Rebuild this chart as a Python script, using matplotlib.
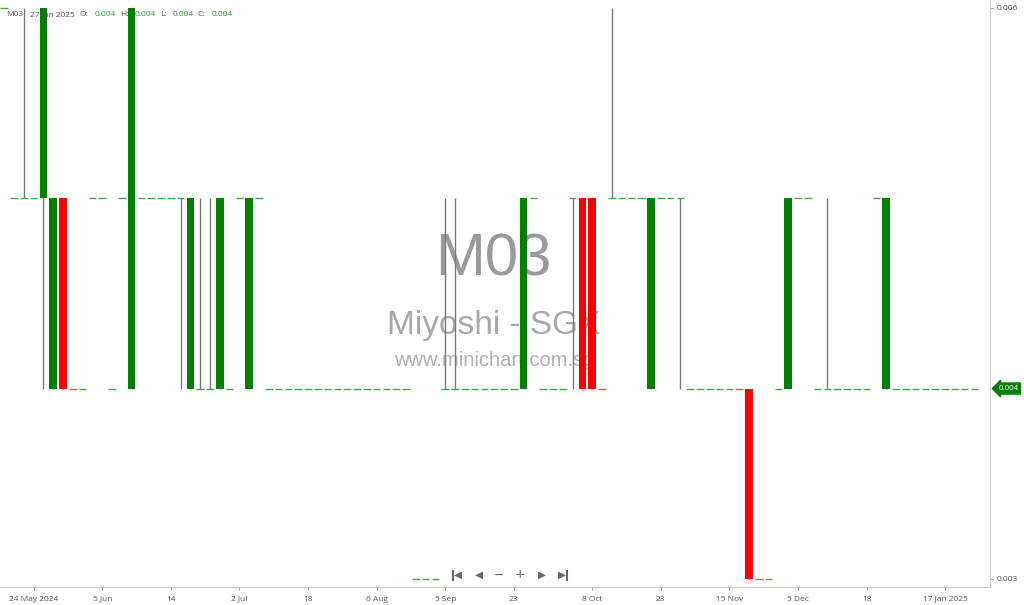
import matplotlib
matplotlib.use("Agg")
import matplotlib.pyplot as plt
from matplotlib.lines import Line2D
import numpy as np

# ---------------- data ----------------
opens = [0.006,
         0.005, 0.005, 0.005, 0.005, 0.004, 0.005, 0.004, 0.004, 0.005, 0.005,
         0.004, 0.005, 0.004, 0.005, 0.005, 0.005, 0.005, 0.005, 0.004, 0.004,
         0.004, 0.004, 0.004, 0.005, 0.004, 0.005] + [0.004] * 15 + [0.003] * 3 + \
        [0.004, 0.004] + [0.004] * 6 + [0.004, 0.005, 0.004, 0.004, 0.004, 0.005,
         0.005, 0.005, 0.004, 0.005, 0.005, 0.005, 0.005, 0.004, 0.005, 0.005, 0.005] + \
        [0.004] * 6 + [0.004, 0.003, 0.003, 0.004, 0.004, 0.005, 0.005, 0.004, 0.004] + \
        [0.004] * 4 + [0.005, 0.004] + [0.004] * 9
closes = [0.006,
          0.005, 0.005, 0.005, 0.006, 0.005, 0.004, 0.004, 0.004, 0.005, 0.005,
          0.004, 0.005, 0.006, 0.005, 0.005, 0.005, 0.005, 0.005, 0.005, 0.004,
          0.004, 0.005, 0.004, 0.005, 0.005, 0.005] + [0.004] * 15 + [0.003] * 3 + \
         [0.004, 0.004] + [0.004] * 6 + [0.005, 0.005, 0.004, 0.004, 0.004, 0.005,
          0.004, 0.004, 0.004, 0.005, 0.005, 0.005, 0.005, 0.005, 0.005, 0.005, 0.005] + \
         [0.004] * 6 + [0.003, 0.003, 0.003, 0.004, 0.005, 0.005, 0.005, 0.004, 0.004] + \
         [0.004] * 4 + [0.005, 0.005] + [0.004] * 9
highs = [0.006,
         0.005, 0.006, 0.005, 0.006, 0.005, 0.005, 0.004, 0.004, 0.005, 0.005,
         0.004, 0.005, 0.006, 0.005, 0.005, 0.005, 0.005, 0.005, 0.005, 0.005,
         0.005, 0.005, 0.004, 0.005, 0.005, 0.005] + [0.004] * 15 + [0.003] * 3 + \
        [0.005, 0.005] + [0.004] * 6 + [0.005, 0.005, 0.004, 0.004, 0.004, 0.005,
         0.005, 0.005, 0.004, 0.006, 0.005, 0.005, 0.005, 0.005, 0.005, 0.005, 0.005] + \
        [0.004] * 6 + [0.004, 0.003, 0.003, 0.004, 0.005, 0.005, 0.005, 0.004, 0.005] + \
        [0.004] * 4 + [0.005, 0.005] + [0.004] * 9
lows = [0.006,
        0.005, 0.005, 0.005, 0.004, 0.004, 0.004, 0.004, 0.004, 0.005, 0.005,
        0.004, 0.005, 0.004, 0.005, 0.005, 0.005, 0.005, 0.004, 0.004, 0.004,
        0.004, 0.004, 0.004, 0.005, 0.004, 0.005] + [0.004] * 15 + [0.003] * 3 + \
       [0.004, 0.004] + [0.004] * 6 + [0.004, 0.005, 0.004, 0.004, 0.004, 0.004,
        0.004, 0.004, 0.004, 0.005, 0.005, 0.005, 0.005, 0.004, 0.005, 0.005, 0.004] + \
       [0.004] * 6 + [0.003, 0.003, 0.003, 0.004, 0.004, 0.005, 0.005, 0.004, 0.004] + \
       [0.004] * 4 + [0.005, 0.004] + [0.004] * 9

tick_pos = [3, 10, 17, 24, 31, 38, 45, 52, 60, 67, 74, 81, 88, 96]
tick_labels = ["24 May 2024", "5 Jun", "14", "2 Jul", "18", "6 Aug", "5 Sep",
               "23", "8 Oct", "23", "15 Nov", "5 Dec", "18", "17 Jan 2025"]
y_ticks = [0.003, 0.006]
y_tick_labels = ["0.003", "0.006"]

symbol = "M03"
company = "Miyoshi - SGX"
site = "www.minichart.com.sg"
last_date = "27 Jan 2025"

# ---------------- figure ----------------
W, H = 1024, 605
fig = plt.figure(figsize=(W / 100, H / 100), dpi=100)
fig.patch.set_facecolor("white")
ax = fig.add_axes([0, 18 / H, 990 / W, 587 / H])
ax.set_facecolor("white")

o = np.array(opens); c = np.array(closes); h = np.array(highs); l = np.array(lows)
x = np.arange(len(o))

GREEN = "#008000"
RED = "#ff0000"
FLAT = "#4aa84a"
WICK = "#7a7a7a"
bw = 0.78

# wicks
wm = h > l
ax.vlines(x[wm], l[wm], h[wm], color=WICK, lw=1.0, zorder=2)
# bodies
up = c > o
dn = c < o
ax.bar(x[up], (c - o)[up], bottom=o[up], width=bw, color=GREEN, lw=0, zorder=3)
ax.bar(x[dn], (o - c)[dn], bottom=c[dn], width=bw, color=RED, lw=0, zorder=3)
# flat candles
fl = c == o
ax.hlines(c[fl], x[fl] - bw / 2, x[fl] + bw / 2, color=FLAT, lw=1.0, zorder=3)

ax.set_xlim(-0.43, 100.59)
ax.set_ylim(0.002957, 0.006042)

for s in ["top", "left"]:
    ax.spines[s].set_visible(False)
ax.spines["right"].set_color("#cccccc")
ax.spines["bottom"].set_color("#cccccc")

ax.set_xticks(tick_pos)
ax.set_xticklabels(tick_labels, fontsize=6, color="#555555", family="Open Sans")
ax.tick_params(axis="x", length=2.2, color="#aaaaaa", pad=7.6)
for lab in ax.get_xticklabels():
    lab.set_verticalalignment("baseline")

ax.yaxis.tick_right()
ax.set_yticks(y_ticks)
ax.set_yticklabels(y_tick_labels, fontsize=6, color="#555555", family="Open Sans")
ax.tick_params(axis="y", length=2.2, color="#aaaaaa", pad=2.5)

# last price tag
ax.annotate(f"{closes[-1]:.3f}", xy=(1.0, closes[-1]), xycoords=("axes fraction", "data"),
            xytext=(6, 0), textcoords="offset points", ha="left", va="center",
            fontsize=5.8, color="white", family="Open Sans", annotation_clip=False,
            bbox=dict(boxstyle="larrow,pad=0.25", fc=GREEN, ec=GREEN))

# watermark
def fx(px):
    return px / W

def fy(py):
    return 1 - py / H

ax.text(fx(493), fy(275), symbol, transform=fig.transFigure, ha="center", va="baseline",
        fontsize=43, color="#9a9a9a", family="Liberation Sans", zorder=0.5)
ax.text(fx(494), fy(334), company, transform=fig.transFigure, ha="center", va="baseline",
        fontsize=24, color="#a8a8a8", family="Liberation Sans", zorder=0.5)
ax.text(fx(494), fy(366), site, transform=fig.transFigure, ha="center", va="baseline",
        fontsize=14.5, color="#b0b0b0", family="Liberation Sans", zorder=0.5)

# header legend
hdr = [(6, symbol, "#555555"), (30, last_date, "#555555"),
       (79, "O:", "#555555"), (95, f"{opens[-1]:.3f}", "#2e9a2e"),
       (120, "H:", "#555555"), (135, f"{highs[-1]:.3f}", "#2e9a2e"),
       (160, "L:", "#555555"), (173, f"{lows[-1]:.3f}", "#2e9a2e"),
       (198, "C:", "#555555"), (212, f"{closes[-1]:.3f}", "#2e9a2e")]
for px, t, col in hdr:
    fig.text(fx(px), fy(16), t, ha="left", va="baseline", fontsize=6, color=col,
             family="Open Sans", zorder=10)

# navigation buttons
navc = "#666666"
fig.text(fx(458), fy(575), "\u25C0", ha="center", va="center", fontsize=7.5, color=navc)
fig.add_artist(Line2D([fx(453), fx(453)], [fy(571), fy(580)], color=navc, lw=1.5))
fig.text(fx(479), fy(575), "\u25C0", ha="center", va="center", fontsize=7.5, color=navc)
fig.text(fx(499), fy(575), "\u2212", ha="center", va="center", fontsize=9, color=navc)
fig.text(fx(520), fy(575), "+", ha="center", va="center", fontsize=9, color=navc)
fig.text(fx(542), fy(575), "\u25B6", ha="center", va="center", fontsize=7.5, color=navc)
fig.text(fx(562), fy(575), "\u25B6", ha="center", va="center", fontsize=7.5, color=navc)
fig.add_artist(Line2D([fx(567), fx(567)], [fy(571), fy(580)], color=navc, lw=1.5))

fig.savefig("out.png", dpi=100, facecolor="white")
